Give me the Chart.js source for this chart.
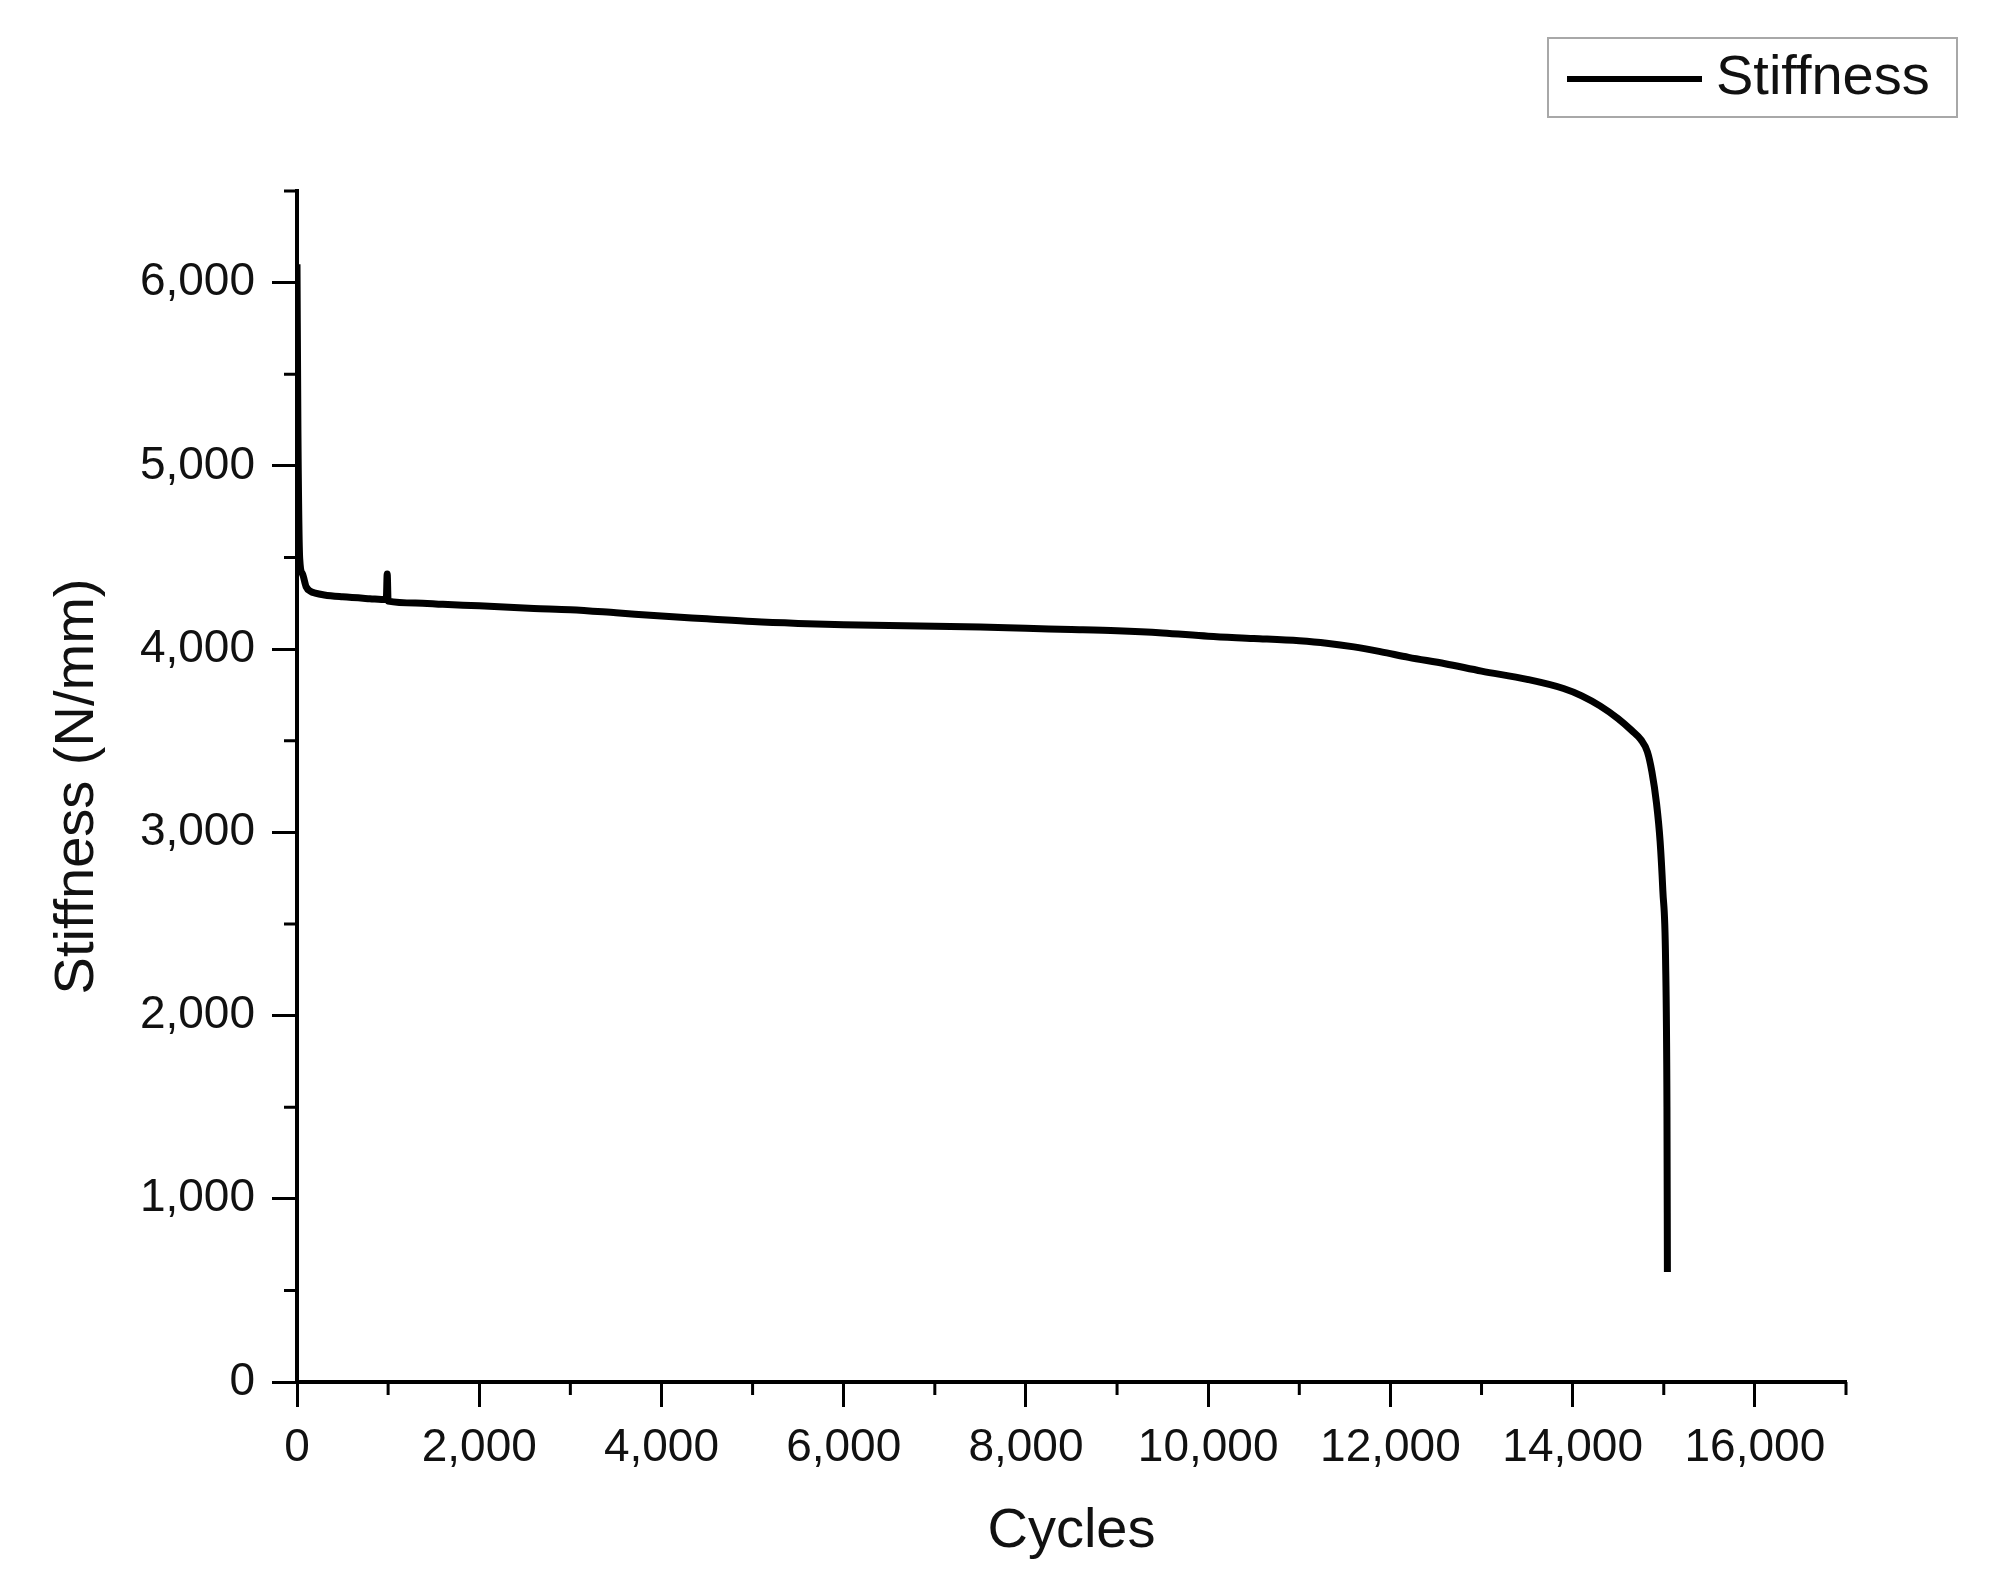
<!DOCTYPE html>
<html lang="en">
<head>
    <meta charset="UTF-8">
    <title>Stiffness vs Cycles</title>
    <script src="https://cdn.jsdelivr.net/npm/chart.js"></script>
    <style>
        body {
            margin: 0;
            background: #fff;
        }
        #stiffChart {
            display: block;
        }
    </style>
</head>
<body>
    <canvas id="stiffChart" width="1990" height="1586"></canvas>

    <script>
        // values
        const cycles = [0, 10, 30, 60, 100, 150, 200, 300, 500, 800, 980, 990, 1000, 1300, 1600, 2000, 2600, 3000, 3500, 4000,
            4500, 5000, 5500, 6000, 6500, 7000, 7500, 8000, 8500, 9000, 9500, 10000, 10500, 11000, 11300, 11600, 11900, 12200,
            12600, 13000, 13500, 13900, 14100, 14300, 14500, 14650, 14750, 14820, 14870, 14920, 14960, 14990, 15020, 15035, 15040];
        const stiffness = [6100, 5200, 4490, 4410, 4340, 4315, 4305, 4295, 4285, 4275, 4270, 4410, 4262, 4252, 4244, 4236, 4222, 4215, 4198, 4180,
            4165, 4150, 4140, 4133, 4128, 4124, 4120, 4113, 4107, 4100, 4088, 4070, 4058, 4045, 4032, 4012, 3985, 3955,
            3920, 3880, 3835, 3785, 3745, 3690, 3620, 3555, 3505, 3440, 3330, 3160, 2950, 2680, 2300, 1500, 600];

        const xMajorTicks = [0, 2000, 4000, 6000, 8000, 10000, 12000, 14000, 16000];
        const yMajorTicks = [0, 1000, 2000, 3000, 4000, 5000, 6000];
        const xMinorTicks = [1000, 3000, 5000, 7000, 9000, 11000, 13000, 15000, 17000];
        const yMinorTicks = [500, 1500, 2500, 3500, 4500, 5500, 6500];

        const seriesLabel = 'Stiffness';
        const xTitle = 'Cycles';
        const yTitle = 'Stiffness (N/mm)';

        const fontFamily = '"Liberation Sans", Arial, sans-serif';

        // short ticks between the labelled ones
        const minorTicks = {
            id: 'minorTicks',
            afterDraw(chart) {
                const ctx = chart.ctx;
                const x = chart.scales.x, y = chart.scales.y;
                ctx.save();
                ctx.strokeStyle = '#000';
                ctx.lineWidth = 3;
                ctx.beginPath();
                xMinorTicks.forEach(v => {
                    const px = x.getPixelForValue(v);
                    ctx.moveTo(px, x.top);
                    ctx.lineTo(px, x.top + 13);
                });
                yMinorTicks.forEach(v => {
                    const py = y.getPixelForValue(v);
                    ctx.moveTo(y.right, py);
                    ctx.lineTo(y.right - 13, py);
                });
                ctx.stroke();
                ctx.restore();
            }
        };

        // boxed legend in the top right corner
        const boxLegend = {
            id: 'boxLegend',
            afterDraw(chart) {
                const ctx = chart.ctx;
                const ds = chart.data.datasets[0];
                ctx.save();
                ctx.strokeStyle = '#a8a8a8';
                ctx.lineWidth = 2;
                ctx.strokeRect(1548, 38, 409, 79);
                ctx.strokeStyle = ds.borderColor;
                ctx.lineWidth = 6;
                ctx.beginPath();
                ctx.moveTo(1567, 79);
                ctx.lineTo(1702, 79);
                ctx.stroke();
                ctx.fillStyle = '#111';
                ctx.font = '56px ' + fontFamily;
                ctx.textBaseline = 'middle';
                ctx.fillText(ds.label, 1716, 79);
                ctx.restore();
            }
        };

        const ctx = document.getElementById('stiffChart').getContext('2d');
        const stiffChart = new Chart(ctx, {
            type: 'line',
            data: {
                datasets: [{
                    label: seriesLabel,
                    data: cycles.map((c, i) => ({ x: c, y: stiffness[i] })),
                    borderColor: '#000',
                    borderWidth: 7,
                    borderJoinStyle: 'round',
                    pointRadius: 0,
                    tension: 0.3,
                    cubicInterpolationMode: 'monotone',
                    fill: false
                }]
            },
            options: {
                responsive: false,
                animation: false,
                devicePixelRatio: 1,
                layout: {
                    padding: { top: 191, right: 144, left: 0, bottom: 0 }
                },
                plugins: {
                    legend: { display: false },
                    tooltip: { enabled: false }
                },
                scales: {
                    x: {
                        type: 'linear',
                        min: 0,
                        max: 17000,
                        afterFit: s => { s.height = 204; },
                        afterBuildTicks: s => { s.ticks = xMajorTicks.map(v => ({ value: v })); },
                        border: { display: true, color: '#000', width: 4 },
                        grid: {
                            drawOnChartArea: false,
                            drawTicks: true,
                            tickLength: 25,
                            tickWidth: 3,
                            tickColor: '#000'
                        },
                        ticks: {
                            padding: 14,
                            color: '#111',
                            maxRotation: 0,
                            font: { family: fontFamily, size: 46 },
                            callback: v => v.toLocaleString('en-US')
                        },
                        title: {
                            display: true,
                            text: xTitle,
                            color: '#111',
                            font: { family: fontFamily, size: 56 },
                            padding: { top: 0, bottom: 21 }
                        }
                    },
                    y: {
                        type: 'linear',
                        min: 0,
                        max: 6500,
                        afterFit: s => { s.width = 297; },
                        afterBuildTicks: s => { s.ticks = yMajorTicks.map(v => ({ value: v })); },
                        border: { display: true, color: '#000', width: 4 },
                        grid: {
                            drawOnChartArea: false,
                            drawTicks: true,
                            tickLength: 25,
                            tickWidth: 3,
                            tickColor: '#000'
                        },
                        ticks: {
                            padding: 17,
                            color: '#111',
                            font: { family: fontFamily, size: 46 },
                            callback: v => v.toLocaleString('en-US')
                        },
                        title: {
                            display: true,
                            text: yTitle,
                            color: '#111',
                            font: { family: fontFamily, size: 56 },
                            padding: { top: 44, bottom: 0 }
                        }
                    }
                }
            },
            plugins: [minorTicks, boxLegend]
        });
    </script>
</body>
</html>
